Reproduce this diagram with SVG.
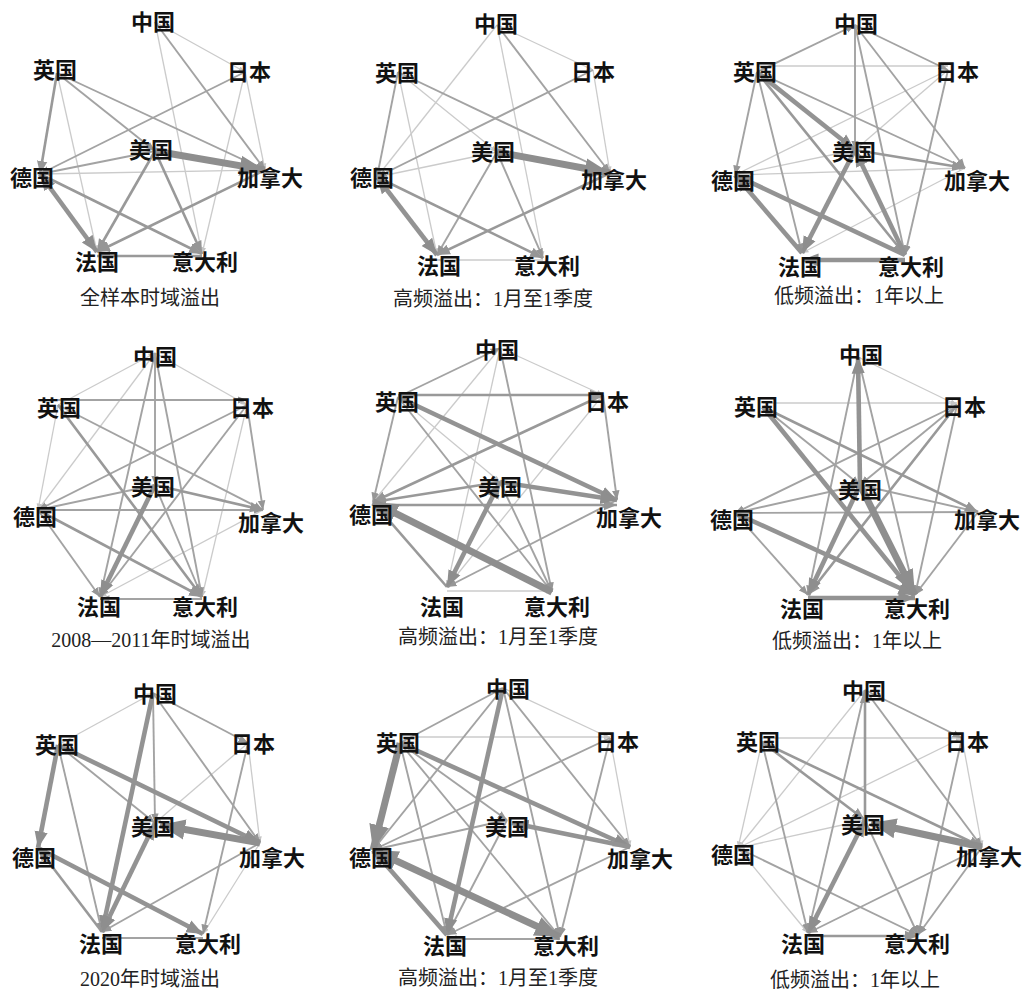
<svg xmlns="http://www.w3.org/2000/svg" width="1028" height="991" viewBox="0 0 1028 991">
<defs>
<marker id="ah" viewBox="0 0 10 10" refX="10" refY="5" markerWidth="3.6" markerHeight="3.6" orient="auto-start-reverse" markerUnits="strokeWidth"><path d="M0,1 L10,5 L0,9 z" fill="#8e8e8e"/></marker>
<marker id="am" viewBox="0 0 10 10" refX="10" refY="5" markerWidth="5" markerHeight="5" orient="auto-start-reverse" markerUnits="strokeWidth"><path d="M0,1 L10,5 L0,9 z" fill="#969696"/></marker>
<marker id="al" viewBox="0 0 10 10" refX="10" refY="5" markerWidth="5" markerHeight="5" orient="auto-start-reverse" markerUnits="strokeWidth"><path d="M0,1 L10,5 L0,9 z" fill="#c4c4c4"/></marker>
<style>
line{fill:none;marker-end:url(#am)}
.e1{stroke:#cbcbcb;stroke-width:1.3;marker-end:url(#al)}
.e2{stroke:#a3a3a3;stroke-width:1.9}
.e3{stroke:#999;stroke-width:2.6}
.e4{stroke:#939393;stroke-width:4.6;marker-end:url(#ah)}
.e5{stroke:#8e8e8e;stroke-width:7;marker-end:url(#ah)}
.b{marker-start:url(#ah)}
.n{font-family:"Noto Sans CJK SC",sans-serif;font-weight:700;font-size:22px;fill:#111;text-anchor:middle}
.c{font-family:"Liberation Serif","Noto Sans CJK SC",serif;font-size:20px;fill:#222;text-anchor:middle}
</style>
</defs>
<rect width="1028" height="991" fill="#fff"/>

<!-- Panel 1 -->
<g id="p1" transform="translate(0,0)">
<g id="p1-edges">
<line class="e1" x1="155" y1="22" x2="245" y2="72"/>
<line class="e1" x1="155" y1="22" x2="202" y2="254"/>
<line class="e1" x1="245" y1="72" x2="265" y2="170"/>
<line class="e1" x1="245" y1="72" x2="202" y2="254"/>
<line class="e1" x1="57" y1="73" x2="97" y2="252"/>
<line class="e1" x1="40" y1="174" x2="265" y2="170"/>
<line class="e2" x1="155" y1="22" x2="265" y2="170"/>
<line class="e2" x1="245" y1="72" x2="40" y2="174"/>
<line class="e2" x1="57" y1="73" x2="155" y2="151"/>
<line class="e2" x1="57" y1="73" x2="265" y2="170"/>
<line class="e2" x1="155" y1="151" x2="40" y2="174"/>
<line class="e3" x1="57" y1="73" x2="40" y2="174"/>
<line class="e3" x1="155" y1="151" x2="97" y2="252"/>
<line class="e3" x1="155" y1="151" x2="202" y2="254"/>
<line class="e3" x1="40" y1="174" x2="202" y2="254"/>
<line class="e3" x1="265" y1="170" x2="97" y2="252"/>
<line class="e3" x1="202" y1="256" x2="97" y2="256"/>
<line class="e4 b" x1="40" y1="174" x2="97" y2="252"/>
<line class="e5" x1="155" y1="151" x2="265" y2="170"/>
</g>
<g id="p1-cn"><text class="n" x="153" y="30">中国</text></g>
<g id="p1-jp"><text class="n" x="249" y="80">日本</text></g>
<g id="p1-uk"><text class="n" x="55" y="78">英国</text></g>
<g id="p1-us"><text class="n" x="151" y="158">美国</text></g>
<g id="p1-de"><text class="n" x="32" y="186">德国</text></g>
<g id="p1-ca"><text class="n" x="270" y="186">加拿大</text></g>
<g id="p1-fr"><text class="n" x="97" y="270">法国</text></g>
<g id="p1-it"><text class="n" x="205" y="270">意大利</text></g>
<text class="c" x="150" y="305">全样本时域溢出</text>
</g>

<!-- Panel 2 -->
<g id="p2" transform="translate(340,0)">
<g id="p2-edges">
<line class="e1" x1="157" y1="25" x2="253" y2="70"/>
<line class="e1" x1="157" y1="25" x2="37" y2="177"/>
<line class="e1" x1="157" y1="25" x2="203" y2="258"/>
<line class="e1" x1="253" y1="70" x2="270" y2="173"/>
<line class="e1" x1="58" y1="72" x2="97" y2="255"/>
<line class="e1" x1="58" y1="72" x2="157" y2="152"/>
<line class="e1" x1="157" y1="152" x2="37" y2="177"/>
<line class="e1" x1="203" y1="260" x2="97" y2="260"/>
<line class="e2" x1="157" y1="25" x2="270" y2="173"/>
<line class="e2" x1="253" y1="70" x2="37" y2="177"/>
<line class="e2" x1="58" y1="72" x2="37" y2="177"/>
<line class="e2" x1="58" y1="72" x2="270" y2="173"/>
<line class="e2" x1="157" y1="152" x2="97" y2="255"/>
<line class="e2" x1="157" y1="152" x2="203" y2="258"/>
<line class="e3" x1="37" y1="177" x2="203" y2="258"/>
<line class="e3" x1="270" y1="173" x2="97" y2="255"/>
<line class="e4 b" x1="37" y1="177" x2="97" y2="255"/>
<line class="e5" x1="157" y1="152" x2="270" y2="173"/>
</g>
<g id="p2-cn"><text class="n" x="156" y="32">中国</text></g>
<g id="p2-jp"><text class="n" x="253" y="80">日本</text></g>
<g id="p2-uk"><text class="n" x="57" y="81">英国</text></g>
<g id="p2-us"><text class="n" x="153" y="160">美国</text></g>
<g id="p2-de"><text class="n" x="32" y="186">德国</text></g>
<g id="p2-ca"><text class="n" x="274" y="188">加拿大</text></g>
<g id="p2-fr"><text class="n" x="99" y="274">法国</text></g>
<g id="p2-it"><text class="n" x="207" y="274">意大利</text></g>
<text class="c" x="153" y="306">高频溢出：1月至1季度</text>
</g>

<!-- Panel 3 -->
<g id="p3" transform="translate(685,0)">
<g id="p3-edges">
<line class="e1" x1="72" y1="66" x2="263" y2="66"/>
<line class="e1" x1="263" y1="70" x2="50" y2="175"/>
<line class="e1" x1="263" y1="70" x2="170" y2="150"/>
<line class="e1" x1="170" y1="150" x2="50" y2="175"/>
<line class="e1" x1="50" y1="175" x2="280" y2="168"/>
<line class="e1" x1="280" y1="168" x2="117" y2="253"/>
<line class="e2" x1="72" y1="72" x2="170" y2="25"/>
<line class="e2" x1="170" y1="25" x2="263" y2="70"/>
<line class="e2" x1="170" y1="25" x2="170" y2="150"/>
<line class="e2" x1="170" y1="25" x2="220" y2="255"/>
<line class="e2" x1="170" y1="25" x2="280" y2="168"/>
<line class="e2" x1="263" y1="70" x2="220" y2="255"/>
<line class="e2" x1="72" y1="72" x2="50" y2="175"/>
<line class="e2" x1="72" y1="72" x2="117" y2="253"/>
<line class="e2" x1="72" y1="72" x2="280" y2="168"/>
<line class="e3" x1="72" y1="72" x2="220" y2="255"/>
<line class="e3" x1="170" y1="150" x2="280" y2="168"/>
<line class="e4" x1="72" y1="72" x2="170" y2="150"/>
<line class="e4" x1="170" y1="150" x2="117" y2="253"/>
<line class="e4" x1="220" y1="255" x2="50" y2="175"/>
<line class="e4" x1="117" y1="253" x2="50" y2="175"/>
<line class="e4" x1="220" y1="255" x2="170" y2="150"/>
<line class="e4" x1="220" y1="260" x2="117" y2="260"/>
</g>
<g id="p3-cn"><text class="n" x="171" y="32">中国</text></g>
<g id="p3-jp"><text class="n" x="272" y="80">日本</text></g>
<g id="p3-uk"><text class="n" x="70" y="80">英国</text></g>
<g id="p3-us"><text class="n" x="169" y="160">美国</text></g>
<g id="p3-de"><text class="n" x="48" y="189">德国</text></g>
<g id="p3-ca"><text class="n" x="292" y="189">加拿大</text></g>
<g id="p3-fr"><text class="n" x="115" y="275">法国</text></g>
<g id="p3-it"><text class="n" x="226" y="275">意大利</text></g>
<text class="c" x="174" y="303">低频溢出：1年以上</text>
</g>

<!-- Panel 4 -->
<g id="p4" transform="translate(0,325)">
<g id="p4-edges">
<line class="e1" x1="58" y1="80" x2="155" y2="28"/>
<line class="e1" x1="155" y1="28" x2="247" y2="80"/>
<line class="e1" x1="155" y1="28" x2="38" y2="185"/>
<line class="e1" x1="247" y1="80" x2="202" y2="272"/>
<line class="e1" x1="58" y1="80" x2="38" y2="185"/>
<line class="e1" x1="263" y1="185" x2="100" y2="272"/>
<line class="e2" x1="58" y1="75" x2="247" y2="75"/>
<line class="e2" x1="155" y1="28" x2="100" y2="272"/>
<line class="e2" x1="155" y1="28" x2="155" y2="160"/>
<line class="e2" x1="155" y1="28" x2="202" y2="272"/>
<line class="e2" x1="247" y1="80" x2="263" y2="185"/>
<line class="e2" x1="247" y1="80" x2="38" y2="185"/>
<line class="e2" x1="247" y1="80" x2="100" y2="272"/>
<line class="e2" x1="58" y1="80" x2="263" y2="185"/>
<line class="e2" x1="155" y1="160" x2="38" y2="185"/>
<line class="e2" x1="155" y1="160" x2="202" y2="272"/>
<line class="e2" x1="38" y1="185" x2="263" y2="185"/>
<line class="e2" x1="38" y1="185" x2="100" y2="272"/>
<line class="e2" x1="202" y1="274" x2="100" y2="274"/>
<line class="e3" x1="58" y1="80" x2="202" y2="272"/>
<line class="e3" x1="155" y1="160" x2="263" y2="185"/>
<line class="e3" x1="38" y1="185" x2="202" y2="272"/>
<line class="e4" x1="155" y1="160" x2="100" y2="272"/>
</g>
<g id="p4-cn"><text class="n" x="155" y="40">中国</text></g>
<g id="p4-jp"><text class="n" x="252" y="91">日本</text></g>
<g id="p4-uk"><text class="n" x="59" y="91">英国</text></g>
<g id="p4-us"><text class="n" x="153" y="170">美国</text></g>
<g id="p4-de"><text class="n" x="35" y="200">德国</text></g>
<g id="p4-ca"><text class="n" x="271" y="206">加拿大</text></g>
<g id="p4-fr"><text class="n" x="99" y="290">法国</text></g>
<g id="p4-it"><text class="n" x="205" y="290">意大利</text></g>
<text class="c" x="151" y="322">2008—2011年时域溢出</text>
</g>

<!-- Panel 5 -->
<g id="p5" transform="translate(340,325)">
<g id="p5-edges">
<line class="e1" x1="160" y1="23" x2="263" y2="70"/>
<line class="e1" x1="160" y1="23" x2="33" y2="177"/>
<line class="e1" x1="160" y1="23" x2="107" y2="262"/>
<line class="e1" x1="263" y1="70" x2="107" y2="262"/>
<line class="e1" x1="58" y1="72" x2="160" y2="157"/>
<line class="e1" x1="107" y1="266" x2="212" y2="266"/>
<line class="e2" x1="58" y1="72" x2="160" y2="23"/>
<line class="e2" x1="160" y1="23" x2="212" y2="267"/>
<line class="e2" x1="263" y1="70" x2="277" y2="175"/>
<line class="e2" x1="58" y1="72" x2="33" y2="177"/>
<line class="e2" x1="58" y1="72" x2="212" y2="267"/>
<line class="e2" x1="160" y1="157" x2="212" y2="267"/>
<line class="e2" x1="277" y1="175" x2="107" y2="262"/>
<line class="e3" x1="58" y1="70" x2="263" y2="70"/>
<line class="e3" x1="263" y1="70" x2="33" y2="177"/>
<line class="e3" x1="160" y1="157" x2="33" y2="177"/>
<line class="e3" x1="33" y1="180" x2="277" y2="180"/>
<line class="e3" x1="107" y1="262" x2="33" y2="177"/>
<line class="e4" x1="58" y1="72" x2="277" y2="175"/>
<line class="e4" x1="160" y1="157" x2="277" y2="175"/>
<line class="e4 b" x1="160" y1="157" x2="107" y2="262"/>
<line class="e5" x1="212" y1="267" x2="33" y2="177"/>
</g>
<g id="p5-cn"><text class="n" x="157" y="33">中国</text></g>
<g id="p5-jp"><text class="n" x="267" y="85">日本</text></g>
<g id="p5-uk"><text class="n" x="57" y="85">英国</text></g>
<g id="p5-us"><text class="n" x="160" y="170">美国</text></g>
<g id="p5-de"><text class="n" x="31" y="198">德国</text></g>
<g id="p5-ca"><text class="n" x="289" y="201">加拿大</text></g>
<g id="p5-fr"><text class="n" x="102" y="290">法国</text></g>
<g id="p5-it"><text class="n" x="217" y="290">意大利</text></g>
<text class="c" x="158" y="319">高频溢出：1月至1季度</text>
</g>

<!-- Panel 6 -->
<g id="p6" transform="translate(685,325)">
<g id="p6-edges">
<line class="e1" x1="173" y1="32" x2="272" y2="80"/>
<line class="e1" x1="78" y1="78" x2="272" y2="78"/>
<line class="e2" x1="173" y1="32" x2="123" y2="270"/>
<line class="e2" x1="173" y1="32" x2="230" y2="270"/>
<line class="e2" x1="272" y1="80" x2="50" y2="188"/>
<line class="e2" x1="272" y1="80" x2="230" y2="270"/>
<line class="e2" x1="272" y1="80" x2="175" y2="160"/>
<line class="e2" x1="78" y1="82" x2="175" y2="160"/>
<line class="e2" x1="175" y1="160" x2="293" y2="187"/>
<line class="e2" x1="50" y1="188" x2="293" y2="187"/>
<line class="e2" x1="50" y1="188" x2="175" y2="160"/>
<line class="e2" x1="50" y1="188" x2="123" y2="270"/>
<line class="e2" x1="293" y1="187" x2="230" y2="270"/>
<line class="e3" x1="272" y1="80" x2="123" y2="270"/>
<line class="e3" x1="78" y1="82" x2="293" y2="187"/>
<line class="e4" x1="175" y1="160" x2="173" y2="32"/>
<line class="e4" x1="78" y1="82" x2="230" y2="270"/>
<line class="e4" x1="175" y1="160" x2="123" y2="270"/>
<line class="e4" x1="50" y1="188" x2="230" y2="270"/>
<line class="e4" x1="123" y1="273" x2="230" y2="273"/>
<line class="e5" x1="175" y1="160" x2="230" y2="270"/>
</g>
<g id="p6-cn"><text class="n" x="176" y="38">中国</text></g>
<g id="p6-jp"><text class="n" x="279" y="90">日本</text></g>
<g id="p6-uk"><text class="n" x="71" y="90">英国</text></g>
<g id="p6-us"><text class="n" x="175" y="173">美国</text></g>
<g id="p6-de"><text class="n" x="47" y="203">德国</text></g>
<g id="p6-ca"><text class="n" x="302" y="203">加拿大</text></g>
<g id="p6-fr"><text class="n" x="117" y="292">法国</text></g>
<g id="p6-it"><text class="n" x="232" y="292">意大利</text></g>
<text class="c" x="172" y="323">低频溢出：1年以上</text>
</g>

<!-- Panel 7 -->
<g id="p7" transform="translate(0,660)">
<g id="p7-edges">
<line class="e1" x1="58" y1="85" x2="153" y2="33"/>
<line class="e1" x1="248" y1="83" x2="155" y2="163"/>
<line class="e1" x1="248" y1="83" x2="260" y2="183"/>
<line class="e1" x1="260" y1="183" x2="203" y2="274"/>
<line class="e2" x1="153" y1="33" x2="248" y2="83"/>
<line class="e2" x1="153" y1="33" x2="155" y2="163"/>
<line class="e2" x1="153" y1="33" x2="260" y2="183"/>
<line class="e2" x1="248" y1="83" x2="203" y2="274"/>
<line class="e2" x1="58" y1="85" x2="102" y2="272"/>
<line class="e2" x1="58" y1="85" x2="155" y2="163"/>
<line class="e2" x1="260" y1="183" x2="102" y2="272"/>
<line class="e2" x1="203" y1="278" x2="102" y2="278"/>
<line class="e3" x1="102" y1="272" x2="38" y2="188"/>
<line class="e4" x1="153" y1="33" x2="102" y2="272"/>
<line class="e4" x1="58" y1="85" x2="38" y2="188"/>
<line class="e4" x1="58" y1="85" x2="260" y2="183"/>
<line class="e4 b" x1="102" y1="272" x2="155" y2="163"/>
<line class="e4" x1="38" y1="188" x2="203" y2="274"/>
<line class="e5" x1="260" y1="183" x2="160" y2="165"/>
</g>
<g id="p7-cn"><text class="n" x="155" y="42">中国</text></g>
<g id="p7-jp"><text class="n" x="253" y="92">日本</text></g>
<g id="p7-uk"><text class="n" x="57" y="93">英国</text></g>
<g id="p7-us"><text class="n" x="153" y="175">美国</text></g>
<g id="p7-de"><text class="n" x="34" y="206">德国</text></g>
<g id="p7-ca"><text class="n" x="272" y="206">加拿大</text></g>
<g id="p7-fr"><text class="n" x="101" y="292">法国</text></g>
<g id="p7-it"><text class="n" x="208" y="292">意大利</text></g>
<text class="c" x="150" y="326">2020年时域溢出</text>
</g>

<!-- Panel 8 -->
<g id="p8" transform="translate(340,660)">
<g id="p8-edges">
<line class="e1" x1="163" y1="28" x2="270" y2="78"/>
<line class="e1" x1="60" y1="77" x2="270" y2="77"/>
<line class="e1" x1="270" y1="78" x2="290" y2="187"/>
<line class="e2" x1="60" y1="83" x2="163" y2="28"/>
<line class="e2" x1="163" y1="28" x2="33" y2="190"/>
<line class="e2" x1="163" y1="28" x2="220" y2="277"/>
<line class="e2" x1="163" y1="28" x2="290" y2="187"/>
<line class="e2" x1="270" y1="78" x2="33" y2="190"/>
<line class="e2" x1="270" y1="78" x2="220" y2="277"/>
<line class="e2" x1="60" y1="83" x2="107" y2="275"/>
<line class="e2" x1="60" y1="83" x2="220" y2="277"/>
<line class="e2" x1="60" y1="83" x2="167" y2="160"/>
<line class="e2" x1="167" y1="160" x2="33" y2="190"/>
<line class="e2" x1="167" y1="160" x2="107" y2="275"/>
<line class="e2" x1="290" y1="187" x2="107" y2="275"/>
<line class="e2" x1="220" y1="279" x2="107" y2="279"/>
<line class="e4" x1="163" y1="28" x2="107" y2="275"/>
<line class="e4" x1="60" y1="83" x2="290" y2="187"/>
<line class="e4" x1="290" y1="187" x2="172" y2="163"/>
<line class="e4" x1="107" y1="275" x2="33" y2="190"/>
<line class="e5" x1="60" y1="83" x2="33" y2="190"/>
<line class="e5 b" x1="33" y1="190" x2="220" y2="277"/>
</g>
<g id="p8-cn"><text class="n" x="168" y="37">中国</text></g>
<g id="p8-jp"><text class="n" x="277" y="90">日本</text></g>
<g id="p8-uk"><text class="n" x="58" y="91">英国</text></g>
<g id="p8-us"><text class="n" x="167" y="175">美国</text></g>
<g id="p8-de"><text class="n" x="31" y="206">德国</text></g>
<g id="p8-ca"><text class="n" x="300" y="207">加拿大</text></g>
<g id="p8-fr"><text class="n" x="105" y="294">法国</text></g>
<g id="p8-it"><text class="n" x="226" y="294">意大利</text></g>
<text class="c" x="158" y="325">高频溢出：1月至1季度</text>
</g>

<!-- Panel 9 -->
<g id="p9" transform="translate(685,660)">
<g id="p9-edges">
<line class="e1" x1="53" y1="188" x2="180" y2="30"/>
<line class="e1" x1="77" y1="78" x2="277" y2="78"/>
<line class="e1" x1="277" y1="78" x2="53" y2="188"/>
<line class="e1" x1="277" y1="78" x2="297" y2="187"/>
<line class="e1" x1="77" y1="82" x2="53" y2="188"/>
<line class="e1" x1="180" y1="160" x2="53" y2="188"/>
<line class="e1" x1="53" y1="188" x2="123" y2="273"/>
<line class="e2" x1="180" y1="30" x2="277" y2="78"/>
<line class="e2" x1="180" y1="30" x2="123" y2="273"/>
<line class="e2" x1="180" y1="30" x2="297" y2="187"/>
<line class="e2" x1="277" y1="78" x2="233" y2="275"/>
<line class="e2" x1="77" y1="82" x2="123" y2="273"/>
<line class="e2" x1="180" y1="160" x2="233" y2="275"/>
<line class="e2" x1="53" y1="188" x2="233" y2="275"/>
<line class="e2" x1="297" y1="187" x2="123" y2="273"/>
<line class="e2" x1="297" y1="187" x2="233" y2="275"/>
<line class="e3" x1="180" y1="160" x2="180" y2="30"/>
<line class="e3" x1="77" y1="82" x2="180" y2="160"/>
<line class="e3" x1="77" y1="82" x2="297" y2="187"/>
<line class="e3" x1="123" y1="276" x2="233" y2="276"/>
<line class="e4 b" x1="123" y1="273" x2="180" y2="160"/>
<line class="e5" x1="297" y1="187" x2="186" y2="163"/>
</g>
<g id="p9-cn"><text class="n" x="179" y="39">中国</text></g>
<g id="p9-jp"><text class="n" x="282" y="90">日本</text></g>
<g id="p9-uk"><text class="n" x="73" y="90">英国</text></g>
<g id="p9-us"><text class="n" x="178" y="173">美国</text></g>
<g id="p9-de"><text class="n" x="48" y="203">德国</text></g>
<g id="p9-ca"><text class="n" x="304" y="205">加拿大</text></g>
<g id="p9-fr"><text class="n" x="118" y="292">法国</text></g>
<g id="p9-it"><text class="n" x="232" y="292">意大利</text></g>
<text class="c" x="170" y="327">低频溢出：1年以上</text>
</g>
</svg>
